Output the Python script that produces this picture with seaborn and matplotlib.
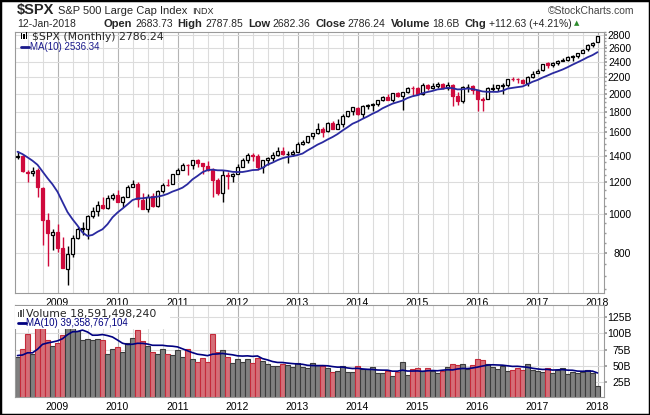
import numpy as np
import pandas as pd
import matplotlib
matplotlib.use("Agg")
import matplotlib.pyplot as plt
import seaborn as sns
from matplotlib.patches import Rectangle
from matplotlib.lines import Line2D
from matplotlib.ticker import NullFormatter

# ----------------------------------------------------------------------
# DATA  ($SPX monthly, May 2008 - Jan 2018)
# ----------------------------------------------------------------------
months = pd.period_range("2008-05", "2018-01", freq="M")

opens = [
    1385.97, 1399.62, 1276.69, 1269.42, 1287.83, 1164.17, 968.16, 888.61,
    902.99, 823.09, 729.57, 793.59, 872.74, 923.26, 920.82, 990.22, 1019.52, 1054.91, 1036.18, 1098.89,
    1116.56, 1073.89, 1105.36, 1171.23, 1188.58, 1087.30, 1031.10, 1107.53, 1049.72, 1143.49, 1185.71, 1186.60,
    1257.62, 1289.14, 1328.64, 1329.48, 1365.21, 1345.20, 1320.64, 1292.59, 1219.12, 1131.21, 1251.00, 1246.91,
    1258.86, 1312.45, 1365.90, 1408.47, 1397.86, 1309.87, 1362.33, 1379.32, 1406.54, 1440.90, 1412.20, 1416.34,
    1426.19, 1498.11, 1514.68, 1569.18, 1597.55, 1631.71, 1609.78, 1689.42, 1635.95, 1681.55, 1758.70, 1806.55,
    1845.86, 1782.68, 1857.68, 1873.96, 1884.39, 1923.87, 1962.29, 1929.80, 2004.07, 1971.44, 2018.21, 2065.78,
    2058.90, 1996.67, 2105.23, 2067.63, 2087.38, 2108.64, 2067.00, 2104.49, 1970.09, 1919.65, 2080.76, 2082.93,
    2038.20, 1936.94, 1937.09, 2056.62, 2067.17, 2093.94, 2099.34, 2173.15, 2171.33, 2164.33, 2128.68, 2200.17,
    2251.57, 2285.59, 2380.13, 2362.34, 2388.50, 2415.65, 2431.39, 2477.10, 2474.42, 2521.20, 2583.21, 2645.10,
    2683.73,
]
highs = [
    1440.24, 1404.05, 1292.17, 1313.15, 1303.04, 1167.03, 1007.51, 918.85,
    943.85, 875.01, 832.98, 888.70, 930.17, 956.23, 996.68, 1039.47, 1080.15, 1101.36, 1113.69, 1130.38,
    1150.45, 1112.42, 1180.16, 1219.80, 1205.13, 1131.23, 1120.95, 1129.24, 1148.90, 1196.14, 1227.08, 1262.60,
    1302.67, 1344.07, 1332.28, 1364.56, 1370.58, 1345.20, 1356.48, 1307.38, 1229.29, 1292.66, 1277.55, 1269.37,
    1333.47, 1378.04, 1419.15, 1422.38, 1415.32, 1363.46, 1391.74, 1426.68, 1474.51, 1470.96, 1434.27, 1448.00,
    1509.94, 1530.94, 1570.28, 1597.57, 1687.18, 1654.19, 1698.78, 1709.67, 1729.86, 1775.22, 1813.55, 1849.44,
    1850.84, 1867.92, 1883.97, 1897.28, 1924.03, 1968.17, 1991.39, 2005.04, 2019.26, 2018.19, 2075.76, 2093.55,
    2072.36, 2119.59, 2117.52, 2125.92, 2134.72, 2129.87, 2132.82, 2112.66, 2020.86, 2094.32, 2116.48, 2104.27,
    2038.20, 1962.96, 2072.21, 2111.05, 2103.48, 2120.55, 2177.09, 2193.81, 2187.87, 2169.60, 2214.10, 2277.53,
    2300.99, 2371.54, 2400.98, 2398.16, 2418.71, 2453.82, 2484.04, 2490.87, 2519.44, 2582.98, 2657.74, 2694.97,
    2787.85,
]
lows = [
    1373.07, 1270.85, 1200.44, 1248.64, 1106.42, 839.80, 741.02, 815.69,
    804.30, 734.52, 666.79, 783.32, 866.10, 888.86, 869.32, 978.51, 991.97, 1029.38, 1029.38, 1085.89,
    1071.59, 1044.50, 1105.36, 1170.69, 1040.78, 1028.33, 1010.91, 1039.70, 1039.70, 1131.87, 1173.00, 1186.60,
    1257.62, 1289.14, 1249.05, 1294.70, 1311.80, 1258.07, 1282.86, 1101.54, 1114.22, 1074.77, 1158.66, 1202.37,
    1258.86, 1312.45, 1340.03, 1357.38, 1291.98, 1266.74, 1325.41, 1354.65, 1396.56, 1403.28, 1343.35, 1398.11,
    1426.19, 1485.01, 1501.48, 1536.03, 1581.28, 1560.33, 1604.57, 1627.47, 1633.41, 1646.47, 1746.20, 1767.99,
    1770.45, 1737.92, 1834.44, 1814.36, 1859.79, 1915.98, 1930.67, 1904.78, 1964.04, 1820.66, 2001.01, 1972.56,
    1988.12, 1980.90, 2039.69, 2048.38, 2067.93, 2056.32, 2044.02, 1867.01, 1871.91, 1893.70, 2019.39, 1993.26,
    1812.29, 1810.10, 1937.09, 2033.80, 2025.91, 1991.68, 2074.02, 2147.58, 2119.12, 2114.72, 2083.79, 2187.44,
    2245.13, 2271.65, 2322.25, 2328.95, 2352.72, 2405.70, 2407.70, 2417.35, 2446.55, 2520.40, 2557.45, 2605.52,
    2682.36,
]
closes = [
    1400.38, 1280.00, 1267.38, 1282.83, 1166.36, 968.75, 896.24, 903.25,
    825.88, 735.09, 797.87, 872.81, 919.14, 919.32, 987.48, 1020.62, 1057.08, 1036.19, 1095.63, 1115.10,
    1073.87, 1104.49, 1169.43, 1186.69, 1089.41, 1030.71, 1101.60, 1049.33, 1141.20, 1183.26, 1180.55, 1257.64,
    1286.12, 1327.22, 1325.83, 1363.61, 1345.20, 1320.64, 1292.28, 1218.89, 1131.42, 1253.30, 1246.96, 1257.60,
    1312.41, 1365.68, 1408.47, 1397.91, 1310.33, 1362.16, 1379.32, 1406.58, 1440.67, 1412.16, 1416.18, 1426.19,
    1498.11, 1514.68, 1569.19, 1597.57, 1630.74, 1606.28, 1685.73, 1632.97, 1681.55, 1756.54, 1805.81, 1848.36,
    1782.59, 1859.45, 1872.34, 1883.95, 1923.57, 1960.23, 1930.67, 2003.37, 1972.29, 2018.05, 2067.56, 2058.90,
    1994.99, 2104.50, 2067.89, 2085.51, 2107.39, 2063.11, 2103.84, 1972.18, 1920.03, 2079.36, 2080.41, 2043.94,
    1940.24, 1932.23, 2059.74, 2065.30, 2096.95, 2098.86, 2173.60, 2170.95, 2168.27, 2126.15, 2198.81, 2238.83,
    2278.87, 2363.64, 2362.72, 2384.20, 2411.80, 2423.41, 2470.30, 2471.65, 2519.36, 2575.26, 2647.58, 2673.61,
    2786.24,
]
# monthly volume, billions
volumes = [
    63.3, 75.6, 98.6, 67.9, 120, 140, 89.9, 80.7,
    84.8, 97.5, 125, 120, 103, 90, 91, 90, 91, 90, 69, 75.6,
    78.6, 71, 85, 92.6, 105.4, 89, 80.7, 71, 68.5, 75.6, 68.5, 67,
    74.6, 63.3, 75.6, 60, 56.5, 61.6, 55.7, 98.6, 72, 74.6, 63.3, 54,
    60, 55.7, 60, 54, 61.6, 58, 52.5, 49.4, 49.4, 53, 51, 48,
    54, 49, 46.4, 54, 51, 50.5, 46.4, 40.8, 42.3, 49.4, 40.2, 40.2,
    49.4, 44.8, 44.8, 48, 38.6, 38.6, 41.6, 34, 40.8, 55.7, 35.8, 44.8,
    46.4, 42.3, 46.4, 42.3, 38.6, 42.3, 48, 52.5, 51, 52.5, 44.8, 51,
    60, 58.5, 52.5, 48, 44.8, 49.4, 41.6, 43.3, 46.4, 43.3, 52.5, 43.8,
    41.6, 40.2, 46.4, 38.5, 44.5, 47.5, 38.2, 41.3, 39.7, 41.3, 44.4, 39.6,
    18.6,
]
# nine months before the window (Aug 2007 - Apr 2008), only for the MA(10) warm-up
pre_closes = [1473.99, 1526.75, 1549.38, 1481.14, 1468.36, 1378.55, 1330.63, 1322.70, 1385.59]
pre_volumes = [67, 65, 68, 66, 64, 69, 66, 67, 65]

price_ticks = [800, 1000, 1200, 1400, 1600, 1800, 2000, 2200, 2400, 2600, 2800]
vol_ticks = [25, 50, 75, 100, 125]
vol_tick_labels = ["25B", "50B", "75B", "100B", "125B"]

# ----------------------------------------------------------------------
# COLOURS / LAYOUT
# ----------------------------------------------------------------------
RED = "#cf0a3c"
BLACK = "#000000"
MA_BLUE = "#2a2aa0"
VOL_MA = "#000080"
GRID = "#dcdcdc"
GRID_YEAR = "#b4b4b4"
SPINE = "#9a9a9a"

sns.set_theme(style="white")
plt.rcParams["font.family"] = ["Liberation Sans", "DejaVu Sans"]

W, H = 650, 415


def fx(px):
    return px / W


def fy(py):
    return 1 - py / H


fig = plt.figure(figsize=(6.5, 4.15), dpi=100)
ax = fig.add_axes([fx(15), fy(293), fx(604) - fx(15), fy(31.7) - fy(293)])
axv = fig.add_axes([fx(15), fy(396.7), fx(604) - fx(15), fy(305.5) - fy(396.7)])

df = pd.DataFrame({"open": opens, "high": highs, "low": lows, "close": closes, "vol": volumes})
df["x"] = np.arange(len(df))
df["prev"] = [pre_closes[-1]] + closes[:-1]
df["up"] = df["close"] >= df["prev"]
df["ma"] = pd.Series(pre_closes + closes).rolling(10).mean().iloc[len(pre_closes):].values
df["vma"] = pd.Series(pre_volumes + volumes).rolling(10).mean().iloc[len(pre_volumes):].values

edge = np.where(df["up"], BLACK, RED)
face = np.where(df["close"] >= df["open"], "white", edge)

# quarter / year grid positions
q_idx = [i for i, m in enumerate(months) if m.month in (1, 4, 7, 10)]
y_idx = [i for i, m in enumerate(months) if m.month == 1]
y_lab = [str(months[i].year) for i in y_idx]

for a in (ax, axv):
    for i in q_idx:
        a.axvline(i, color=GRID_YEAR if i in y_idx else GRID, lw=0.8, zorder=0)
    for s in a.spines.values():
        s.set_color(SPINE)
        s.set_linewidth(0.8)

# ----------------------------------------------------------------------
# PRICE PANEL
# ----------------------------------------------------------------------
ax.vlines(df["x"], df["low"], df["high"], colors=edge, lw=1.0, zorder=2)
ax.bar(df["x"], np.maximum((df["close"] - df["open"]).abs(), 0.8),
       bottom=np.minimum(df["open"], df["close"]), width=0.78,
       color=face, edgecolor=edge, linewidth=0.9, zorder=3)
sns.lineplot(data=df, x="x", y="ma", ax=ax, color=MA_BLUE, lw=1.3, zorder=4)

ax.set_yscale("log")
ax.set_ylim(636, 2853)
ax.set_xlim(-0.5, 117.3)
ax.yaxis.tick_right()
ax.set_yticks(price_ticks, labels=[str(v) for v in price_ticks])
ax.set_yticks(np.arange(650, 2851, 50), minor=True)
ax.yaxis.set_minor_formatter(NullFormatter())
ax.grid(axis="y", which="major", color=GRID, lw=0.8, zorder=0)
ax.set_xticks(y_idx, labels=y_lab)
ax.set_xticks(df["x"], minor=True)
ax.set_xlabel("")
ax.set_ylabel("")

# ----------------------------------------------------------------------
# VOLUME PANEL
# ----------------------------------------------------------------------
vface = np.where(df["up"], "#808080", "#d46e78")
vedge = np.where(df["up"], "#3c3c3c", "#c42a3a")
axv.bar(df["x"], df["vol"], width=0.92, color=vface, edgecolor=vedge, linewidth=0.8, zorder=2)
sns.lineplot(data=df, x="x", y="vma", ax=axv, color=VOL_MA, lw=1.2, zorder=4)
axv.set_xlim(-0.5, 117.3)
axv.set_ylim(2.9, 142.8)
axv.yaxis.tick_right()
axv.set_yticks(vol_ticks, labels=vol_tick_labels)
axv.grid(axis="y", color=GRID, lw=0.8, zorder=0)
axv.set_xticks(y_idx, labels=y_lab)
axv.set_xticks(df["x"], minor=True)
axv.set_xlabel("")
axv.set_ylabel("")
# white backing behind the volume legend (bars under it are hidden, as in the source)
axv.add_patch(Rectangle((0, 0.742), (170 - 15) / 589, 0.258, transform=axv.transAxes,
                        facecolor="white", edgecolor="none", zorder=5))

for a in (ax, axv):
    a.tick_params(axis="x", which="major", length=2, color=SPINE, labelsize=7.5, pad=1.5, labelcolor="black")
    a.tick_params(axis="x", which="minor", length=1.5, color=SPINE)
    a.tick_params(axis="y", which="major", length=2, color=SPINE, labelsize=7.5, pad=17.5, labelcolor="black")
    a.tick_params(axis="y", which="minor", length=1.2, color=SPINE)
    for lab in a.get_yticklabels():
        lab.set_horizontalalignment("right")

# ----------------------------------------------------------------------
# HEADER TEXT
# ----------------------------------------------------------------------
renderer = fig.canvas.get_renderer()


def chain(x_px, y_px, s, gap, **kw):
    t = fig.text(fx(x_px), fy(y_px), s, va="center", ha="left", **kw)
    return t.get_window_extent(renderer).x1 + gap


xp = chain(17, 10, "$SPX", 4, fontsize=10.5, fontweight="bold", parse_math=False)
xp = chain(xp, 11, "S&P 500 Large Cap Index", 4, fontsize=8)
chain(xp, 11, "INDX", 0, fontsize=6.5)
fig.text(fx(634), fy(11), "\u00a9StockCharts.com", fontsize=7.5, va="center", ha="right", color="#444444")

fig.text(fx(17), fy(24), "12-Jan-2018", fontsize=7.5, va="center")
xp = 104
for lab, val in [("Open", "2683.73"), ("High", "2787.85"), ("Low", "2682.36"),
                 ("Close", "2786.24"), ("Volume", "18.6B"), ("Chg", "+112.63 (+4.21%)")]:
    xp = chain(xp, 24, lab, 2.5, fontsize=8, fontweight="bold")
    xp = chain(xp, 24, val, 5, fontsize=7.5)
fig.text(fx(xp - 3), fy(23.5), "\u25b2", fontsize=5, va="center", color="#2e8b2e", family="DejaVu Sans")

# price legend
for dx, y0, h in [(20.5, 33, 6), (23, 34, 5), (25.5, 32.5, 7)]:
    fig.add_artist(Rectangle((fx(dx), fy(y0 + h)), 1.6 / W, h / H, transform=fig.transFigure,
                             facecolor="black", edgecolor="none"))
fig.text(fx(32), fy(36.5), "$SPX (Monthly) 2786.24", fontsize=7.8, va="center",
         family="DejaVu Sans", parse_math=False)
fig.add_artist(Line2D([fx(20.5), fx(28.5)], [fy(47), fy(47)], color="#1c1c8c", lw=2,
                      transform=fig.transFigure))
fig.text(fx(29.5), fy(47), "MA(10) 2536.34", fontsize=7, va="center", color="#1c1c8c")

# volume legend
for dx, y0, h in [(17.5, 311.5, 5), (20, 310, 6.5), (22.5, 309, 7.5)]:
    fig.add_artist(Rectangle((fx(dx), fy(y0 + h)), 1.6 / W, h / H, transform=fig.transFigure,
                             facecolor="#555555", edgecolor="none"))
fig.text(fx(26), fy(314), "Volume 18,591,498,240", fontsize=7.8, va="center", family="DejaVu Sans")
fig.add_artist(Line2D([fx(17.5), fx(25.5)], [fy(323), fy(323)], color=VOL_MA, lw=2,
                      transform=fig.transFigure))
fig.text(fx(26.5), fy(323), "MA(10) 39,358,767,104", fontsize=7, va="center", color=VOL_MA)

# outer frame
fig.add_artist(Rectangle((0, 0), 1, 1, transform=fig.transFigure, fill=False,
                         edgecolor="black", lw=2.5))

fig.savefig("out.png", dpi=100)
plt.close(fig)
